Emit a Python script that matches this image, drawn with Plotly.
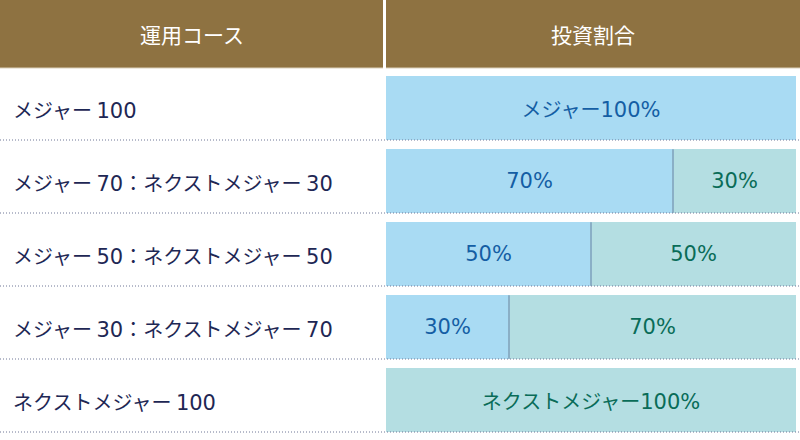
import re
import plotly.graph_objects as go

# ---- data ----
courses = [
    "メジャー 100",
    "メジャー 70：ネクストメジャー 30",
    "メジャー 50：ネクストメジャー 50",
    "メジャー 30：ネクストメジャー 70",
    "ネクストメジャー 100",
]
major = [100, 70, 50, 30, 0]
next_major = [0, 30, 50, 70, 100]
series_names = ["メジャー", "ネクストメジャー"]
headers = ["運用コース", "投資割合"]

# ---- style ----
W, H = 800, 440
FONT = "Noto Sans CJK JP"
NUM_FONT = "DejaVu Sans"
BROWN = "#8E7241"
BLUE_BAR = "#A9DBF3"
TEAL_BAR = "#B4DEE2"
BLUE_TXT = "#145EA4"
GREEN_TXT = "#096C58"
NAVY = "#1E2754"
DIVIDER = "#8AAFC6"
DOT = "#6F7796"

ROW = 73.0          # px per row
FIRST_CENTER = 108  # px of first bar centre
HEADER_H = 68


def num_span(s, size):
    """Render digit/percent runs in a wider sans face."""
    return re.sub(r"([0-9%]+)",
                  lambda m: f"<span style=\"font-family:'{NUM_FONT}';font-size:{size}px\">{m.group(1)}</span>",
                  s)


def pct_text(vals, name):
    out = []
    for v in vals:
        if v == 0:
            out.append("")
        elif v == 100:
            out.append(num_span(f"{name}{v}%", 21))
        else:
            out.append(num_span(f"{v}%", 21))
    return out


fig = go.Figure()
fig.add_trace(go.Bar(
    y=courses, x=major, orientation="h", name=series_names[0],
    marker=dict(color=BLUE_BAR, line=dict(width=0)),
    text=pct_text(major, series_names[0]), textposition="inside",
    insidetextanchor="middle", textangle=0, constraintext="none",
    textfont=dict(family=FONT, size=20, color=BLUE_TXT),
    width=0.87, hoverinfo="skip",
))
fig.add_trace(go.Bar(
    y=courses, x=next_major, orientation="h", name=series_names[1],
    marker=dict(color=TEAL_BAR, line=dict(width=0)),
    text=pct_text(next_major, series_names[1]), textposition="inside",
    insidetextanchor="middle", textangle=0, constraintext="none",
    textfont=dict(family=FONT, size=20, color=GREEN_TXT),
    width=0.87, hoverinfo="skip",
))

top_val = -FIRST_CENTER / ROW
bot_val = top_val + H / ROW

shapes = []
# header cells
hy0 = 1 - HEADER_H / H
shapes.append(dict(type="rect", xref="paper", yref="paper", x0=0, x1=383 / W,
                   y0=hy0, y1=1, fillcolor=BROWN, line=dict(width=0), layer="below"))
shapes.append(dict(type="rect", xref="paper", yref="paper", x0=386 / W, x1=1,
                   y0=hy0, y1=1, fillcolor=BROWN, line=dict(width=0), layer="below"))
shapes.append(dict(type="line", xref="paper", yref="paper", x0=0, x1=383 / W,
                   y0=hy0, y1=hy0, line=dict(color="#DCD1BB", width=1)))
shapes.append(dict(type="line", xref="paper", yref="paper", x0=386 / W, x1=1,
                   y0=hy0, y1=hy0, line=dict(color="#DCD1BB", width=1)))

# dividers between segments and dotted row separators
for i, c in enumerate(courses):
    if 0 < major[i] < 100:
        shapes.append(dict(type="line", xref="x", yref="y",
                           x0=major[i], x1=major[i], y0=i - 0.435, y1=i + 0.435,
                           line=dict(color=DIVIDER, width=2)))
    ysep = i + 32 / ROW
    shapes.append(dict(type="line", xref="paper", yref="y", x0=0, x1=1,
                       y0=ysep, y1=ysep, line=dict(color=DOT, width=1, dash="1px,2px")))

annotations = [
    dict(text=headers[0], xref="paper", yref="paper", x=191.5 / W, y=1 - 34 / H,
         showarrow=False, xanchor="center", yanchor="middle",
         font=dict(family=FONT, size=21, color="white")),
    dict(text=headers[1], xref="paper", yref="paper", x=593 / W, y=1 - 34 / H,
         showarrow=False, xanchor="center", yanchor="middle",
         font=dict(family=FONT, size=21, color="white")),
]
for c in courses:
    annotations.append(dict(text=num_span(c, 21), xref="paper", yref="y", x=11 / W, y=c,
                            showarrow=False, xanchor="left", yanchor="middle", yshift=-1,
                            font=dict(family=FONT, size=20, color=NAVY)))

fig.update_layout(
    width=W, height=H, barmode="stack",
    margin=dict(l=0, r=0, t=0, b=0),
    paper_bgcolor="white", plot_bgcolor="white",
    showlegend=False,
    font=dict(family=FONT),
    xaxis=dict(domain=[386 / W, 796 / W], range=[0, 100], visible=False, fixedrange=True),
    yaxis=dict(domain=[0, 1], range=[bot_val, top_val], visible=False,
               categoryorder="array", categoryarray=courses, fixedrange=True),
    shapes=shapes, annotations=annotations,
)

fig.write_html("out.html", config={"displayModeBar": False},
               post_script="document.body.style.margin='0';")
